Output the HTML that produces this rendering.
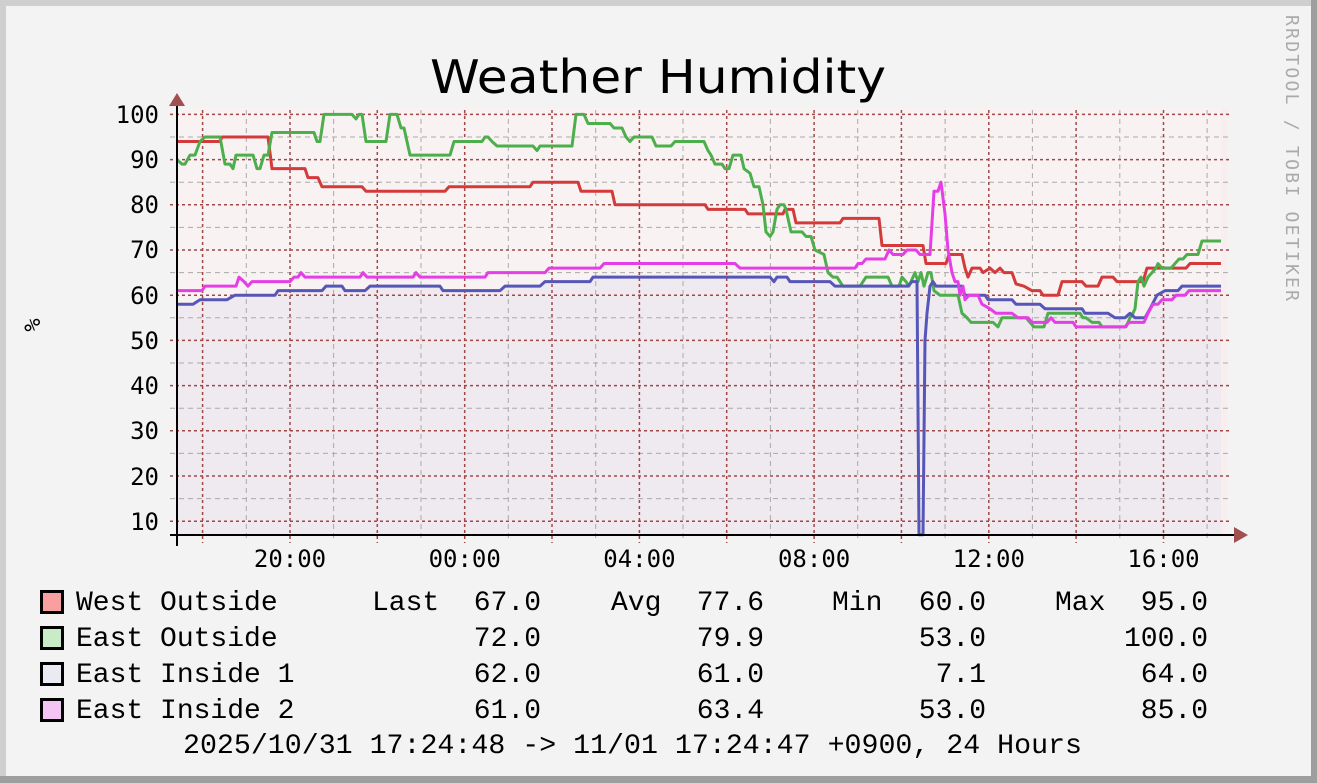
<!DOCTYPE html>
<html><head><meta charset="utf-8"><style>
html,body{margin:0;padding:0;background:#f3f3f3}
svg{display:block}
.m{font-family:"DejaVu Sans Mono","Liberation Mono",monospace}
.l{font-family:"Liberation Mono","DejaVu Sans Mono",monospace}
</style></head><body>
<svg width="1317" height="783" xmlns="http://www.w3.org/2000/svg">
<rect x="0" y="0" width="1317" height="783" fill="#f3f3f3"/>
<rect x="0" y="0" width="1317" height="6" fill="#cfcfcf"/>
<rect x="0" y="0" width="6" height="783" fill="#cfcfcf"/>
<rect x="1311" y="0" width="6" height="783" fill="#9e9e9e"/>
<rect x="0" y="776" width="1317" height="7" fill="#9e9e9e"/>
<text x="658" y="93" text-anchor="middle" font-family="DejaVu Sans, Liberation Sans, sans-serif" font-size="46" fill="#000" textLength="456" lengthAdjust="spacingAndGlyphs">Weather Humidity</text>
<text transform="translate(1286,15) rotate(90)" class="m" font-size="18" fill="#aaaaaa" textLength="286">RRDTOOL / TOBI OETIKER</text>
<rect x="177" y="108" width="1050" height="427" fill="#f8f2f2"/>
<rect x="1221" y="108" width="6" height="427" fill="#f8eef0"/>
<g transform="translate(0,566.4) scale(1,-4.52)">
<polygon fill="#efe9f0" points="177,7 177,58 193,58 200,59 227,59 235,60 275,60 278,61 322,61 326,62 342,62 345,61 365,61 370,62 440,62 443,61 500,61 505,62 540,62 545,63 590,63 593,64 770,64 774,63 777,64 790,63 830,63 835,62 910,62 915,63 930,62 940,62 962,62 965,60 985,60 988,59 1012,59 1016,58 1040,58 1045,57 1082,57 1085,56 1108,56 1115,55 1125,55 1130,56 1135,55 1145,55 1150,57 1157,60 1165,61 1178,61 1182,62 1221,62 1221,7"/>
</g>
<g id="grid">
<g stroke="#aaa" stroke-width="1" stroke-dasharray="5,4">
<line x1="170" x2="1232" y1="498.6" y2="498.6"/><line x1="170" x2="1232" y1="453.4" y2="453.4"/><line x1="170" x2="1232" y1="408.2" y2="408.2"/><line x1="170" x2="1232" y1="363" y2="363"/><line x1="170" x2="1232" y1="317.8" y2="317.8"/><line x1="170" x2="1232" y1="272.6" y2="272.6"/><line x1="170" x2="1232" y1="227.4" y2="227.4"/><line x1="170" x2="1232" y1="182.2" y2="182.2"/><line x1="170" x2="1232" y1="137" y2="137"/>
<line x1="246.3" x2="246.3" y1="110" y2="540"/><line x1="333.6" x2="333.6" y1="110" y2="540"/><line x1="421" x2="421" y1="110" y2="540"/><line x1="508.3" x2="508.3" y1="110" y2="540"/><line x1="595.7" x2="595.7" y1="110" y2="540"/><line x1="683" x2="683" y1="110" y2="540"/><line x1="770.4" x2="770.4" y1="110" y2="540"/><line x1="857.7" x2="857.7" y1="110" y2="540"/><line x1="945.1" x2="945.1" y1="110" y2="540"/><line x1="1032.4" x2="1032.4" y1="110" y2="540"/><line x1="1119.8" x2="1119.8" y1="110" y2="540"/><line x1="1207.1" x2="1207.1" y1="110" y2="540"/>
</g>
<g stroke="#a04848" stroke-width="1.5" stroke-dasharray="3,3">
<line x1="170" x2="1232" y1="521.2" y2="521.2"/><line x1="170" x2="1232" y1="476" y2="476"/><line x1="170" x2="1232" y1="430.8" y2="430.8"/><line x1="170" x2="1232" y1="385.6" y2="385.6"/><line x1="170" x2="1232" y1="340.4" y2="340.4"/><line x1="170" x2="1232" y1="295.2" y2="295.2"/><line x1="170" x2="1232" y1="250" y2="250"/><line x1="170" x2="1232" y1="204.8" y2="204.8"/><line x1="170" x2="1232" y1="159.6" y2="159.6"/><line x1="170" x2="1232" y1="114.4" y2="114.4"/>
<line x1="202.6" x2="202.6" y1="110" y2="543"/><line x1="290" x2="290" y1="110" y2="543"/><line x1="377.3" x2="377.3" y1="110" y2="543"/><line x1="464.7" x2="464.7" y1="110" y2="543"/><line x1="552" x2="552" y1="110" y2="543"/><line x1="639.4" x2="639.4" y1="110" y2="543"/><line x1="726.7" x2="726.7" y1="110" y2="543"/><line x1="814.1" x2="814.1" y1="110" y2="543"/><line x1="901.4" x2="901.4" y1="110" y2="543"/><line x1="988.8" x2="988.8" y1="110" y2="543"/><line x1="1076.1" x2="1076.1" y1="110" y2="543"/><line x1="1163.5" x2="1163.5" y1="110" y2="543"/>
</g>
</g>
<g transform="translate(0,566.4) scale(1,-4.52)" fill="none" stroke-width="3" stroke-linejoin="round">
<polyline vector-effect="non-scaling-stroke" stroke="#d43a3a" points="177,94 220,94 222,95 268,95 272,88 305,88 308,86 318,86 322,84 362,84 366,83 445,83 449,84 530,84 533,85 578,85 581,83 612,83 615,80 705,80 708,79 745,79 748,78 783,78 785,79 793,79 796,76 840,76 843,77 879,77 882,71 923,71 926,67 946,67 949,69 962,69 965,66 968,64 972,66 980,66 983,65 990,66 995,65 1000,66 1004,65 1012,65 1016,62.5 1024,62 1032,61 1040,61 1043,60 1058,60 1062,63 1082,63 1086,62 1098,62 1102,64 1113,64 1117,63 1143,63 1147,66 1186,66 1190,67 1221,67"/>
<polyline vector-effect="non-scaling-stroke" stroke="#4caf4c" points="177,90 182,89 185,89 190,91 195,91 200,94 205,95 220,95 225,89 230,89 233,88 236,91 253,91 257,88 260,88 264,91 268,91 272,96 314,96 317,94 320,94 324,100 352,100 356,99 359,100 362,100 366,94 386,94 390,100 397,100 401,97 404,97 410,91 450,91 454,94 482,94 485,95 488,95 492,94 497,93 533,93 537,92 540,93 572,93 576,100 584,100 588,98 610,98 614,97 622,97 626,95 630,94 634,95 652,95 656,93 671,93 675,94 704,94 708,92 711,91 715,89 722,89 725,88 729,88 733,91 741,91 744,88 750,87 754,84 759,84 763,80 766,74 770,73 773,74 777,79 780,80 784,80 786,79 791,74 802,74 806,73 811,73 815,70 824,69 828,65 833,64 837,64 843,62 860,62 866,64 888,64 892,62 899,62 902,64 906,63 909,62 913,64 915,65 918,63 921,65 924,62 928,65 931,65 934,61 940,60 945,60 958,60 962,56 967,55 971,54 988,54 993,54 998,53 1002,55 1026,55 1030,54 1034,53 1044,53 1048,56 1080,56 1083,55 1086,55 1092,54 1099,54 1102,53 1126,53 1130,55 1133,56 1135,57 1138,63 1141,64 1144,62 1148,64 1152,65 1156,66 1158,67 1162,66 1167,66 1171,66 1175,67 1179,68 1183,68 1187,69 1198,69 1202,72 1221,72"/>
<polyline vector-effect="non-scaling-stroke" stroke="#5656b8" points="177,58 193,58 200,59 227,59 235,60 275,60 278,61 322,61 326,62 342,62 345,61 365,61 370,62 440,62 443,61 500,61 505,62 540,62 545,63 590,63 593,64 770,64 774,63 777,64 787,64 790,63 830,63 835,62 908,62 912,63 917,63 919,7 923,7 925,50 927,56 930,62 933,63 936,62 940,62 962,62 965,60 985,60 988,59 1012,59 1016,58 1040,58 1045,57 1082,57 1085,56 1108,56 1115,55 1125,55 1130,56 1135,55 1145,55 1150,57 1157,60 1165,61 1178,61 1182,62 1221,62"/>
<polyline vector-effect="non-scaling-stroke" stroke="#e63ee6" points="177,61 202,61 205,62 236,62 239,64 244,63 248,62 252,63 290,63 294,64 298,64 301,65 305,64 360,64 363,65 367,64 413,64 416,65 420,64 485,64 488,65 545,65 549,66 600,66 604,67 735,67 740,66 855,66 858,67 862,67 866,68 885,68 889,70 893,69 903,69 907,70 916,70 920,69 930,69 934,83 938,83 941,85 945,78 948,70 952,65 955,63 958,63 960,60 963,62 965,59 969,60 978,60 982,58 990,57 996,56 1012,56 1018,55 1028,55 1032,54 1047,54 1051,55 1055,54 1073,54 1076,53 1084,53 1090,53 1125,53 1129,54 1144,54 1148,56 1153,58 1158,58 1162,59 1172,59 1176,60 1185,60 1189,61 1221,61"/>
</g>
<g stroke="#000" stroke-width="2">
<line x1="177" y1="104" x2="177" y2="546"/>
<line x1="170" y1="535" x2="1235" y2="535"/>
</g>
<polygon points="169,106 185,106 177,93" fill="#a05050"/>
<polygon points="1234,527 1234,543 1248,535" fill="#a05050"/>
<g class="m" font-size="24" fill="#000" text-anchor="end">
<text x="159" y="123">100</text><text x="159" y="168">90</text><text x="159" y="213">80</text><text x="159" y="258">70</text><text x="159" y="304">60</text><text x="159" y="349">50</text><text x="159" y="394">40</text><text x="159" y="439">30</text><text x="159" y="485">20</text><text x="159" y="530">10</text>
</g>
<g class="m" font-size="24" fill="#000" text-anchor="middle">
<text x="290" y="567">20:00</text><text x="464.7" y="567">00:00</text><text x="639.4" y="567">04:00</text><text x="814.1" y="567">08:00</text><text x="988.8" y="567">12:00</text><text x="1163.5" y="567">16:00</text>
</g>
<text transform="translate(40,325) rotate(-90)" class="m" font-size="22" text-anchor="middle">%</text>
<g stroke="#000" stroke-width="3">
<rect x="41.5" y="591.5" width="21" height="21" fill="#f8a0a0"/>
<rect x="41.5" y="627.5" width="21" height="21" fill="#c8ecc8"/>
<rect x="41.5" y="663.5" width="21" height="21" fill="#eaeaf2"/>
<rect x="41.5" y="699.5" width="21" height="21" fill="#f4c4f4"/>
</g>
<g class="l" font-size="28" fill="#000">
<text x="76" y="610">West Outside</text>
<text x="76" y="646">East Outside</text>
<text x="76" y="682">East Inside 1</text>
<text x="76" y="718">East Inside 2</text>
<text x="372" y="610">Last</text>
<text x="611" y="610">Avg</text>
<text x="832" y="610">Min</text>
<text x="1055" y="610">Max</text>
</g>
<g class="l" font-size="28" fill="#000" text-anchor="end">
<text x="541" y="610">67.0</text><text x="764" y="610">77.6</text><text x="986" y="610">60.0</text><text x="1208" y="610">95.0</text>
<text x="541" y="646">72.0</text><text x="764" y="646">79.9</text><text x="986" y="646">53.0</text><text x="1208" y="646">100.0</text>
<text x="541" y="682">62.0</text><text x="764" y="682">61.0</text><text x="986" y="682">7.1</text><text x="1208" y="682">64.0</text>
<text x="541" y="718">61.0</text><text x="764" y="718">63.4</text><text x="986" y="718">53.0</text><text x="1208" y="718">85.0</text>
</g>
<text class="l" font-size="28" x="183" y="753" textLength="899" lengthAdjust="spacingAndGlyphs">2025/10/31 17:24:48 -&gt; 11/01 17:24:47 +0900, 24 Hours</text>
</svg>
</body></html>
